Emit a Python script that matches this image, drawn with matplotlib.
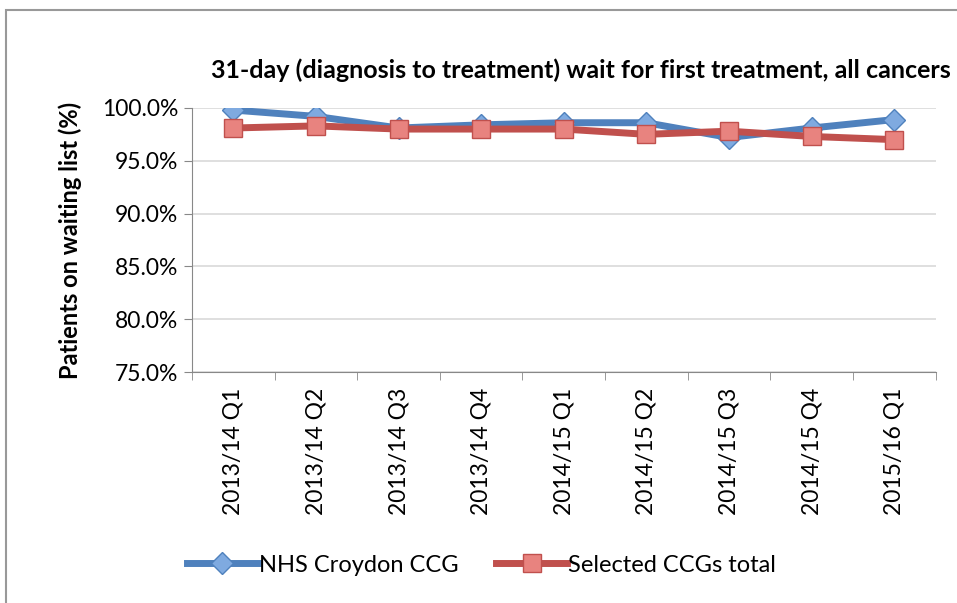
import matplotlib.pyplot as plt
from matplotlib.patches import Rectangle
from matplotlib.ticker import FuncFormatter

plt.rcParams['font.family'] = ['Lato', 'DejaVu Sans']

quarters = ['2013/14 Q1', '2013/14 Q2', '2013/14 Q3', '2013/14 Q4', '2014/15 Q1',
            '2014/15 Q2', '2014/15 Q3', '2014/15 Q4', '2015/16 Q1']
croydon = [99.8, 99.2, 98.1, 98.4, 98.6, 98.6, 97.2, 98.1, 98.9]
selected = [98.1, 98.3, 98.0, 98.0, 98.0, 97.5, 97.8, 97.3, 97.0]

fig = plt.figure(figsize=(9.57, 6.03), dpi=100)
ax = fig.add_axes([0.2006, 0.383, 0.777, 0.438])

x = range(len(quarters))
ax.plot(x, croydon, color='#4F81BD', lw=5, marker='D', ms=11,
        mfc='#7FAAE0', mec='#4F81BD', mew=1, label='NHS Croydon CCG', zorder=3)
ax.plot(x, selected, color='#C0504D', lw=5, marker='s', ms=13,
        mfc='#E8837F', mec='#C0504D', mew=1, label='Selected CCGs total', zorder=4)

ax.set_ylim(75, 100)
ax.set_yticks([75, 80, 85, 90, 95, 100])
ax.yaxis.set_major_formatter(FuncFormatter(lambda v, p: '%.1f%%' % v))
ax.set_xlim(-0.5, len(quarters) - 0.5)
ax.set_xticks(list(x))
ax.set_xticklabels(quarters, rotation=90)
ax.set_xticks([i - 0.5 for i in range(len(quarters) + 1)], minor=True)
ax.tick_params(axis='x', which='major', length=0, pad=11, labelsize=16.5)
ax.tick_params(axis='x', which='minor', length=6, color='#888888', direction='out')
ax.tick_params(axis='y', length=6, color='#888888', labelsize=16.5, pad=4)

ax.grid(axis='y', color='#D9D9D9', lw=1.2)
ax.set_axisbelow(True)
for s in ['top', 'right']:
    ax.spines[s].set_visible(False)
ax.spines['left'].set_color('#888888')
ax.spines['bottom'].set_color('#888888')

ax.set_ylabel('Patients on waiting list (%)', fontsize=17, fontweight='bold', labelpad=14)
fig.text(0.607, 0.884, '31-day (diagnosis to treatment) wait for first treatment, all cancers',
         ha='center', va='center', fontsize=18, fontweight='bold')

fig.legend(loc='center', bbox_to_anchor=(0.503, 0.063), ncol=2, frameon=False,
           fontsize=17, handlelength=3.0, handletextpad=0.05, columnspacing=1.6)

fig.patches.append(Rectangle((6 / 957, -0.1), 1.2, 1 - 10 / 603 + 0.1,
                             transform=fig.transFigure, fill=False,
                             edgecolor='#999999', lw=1.5))

fig.savefig('out.png', dpi=100)
